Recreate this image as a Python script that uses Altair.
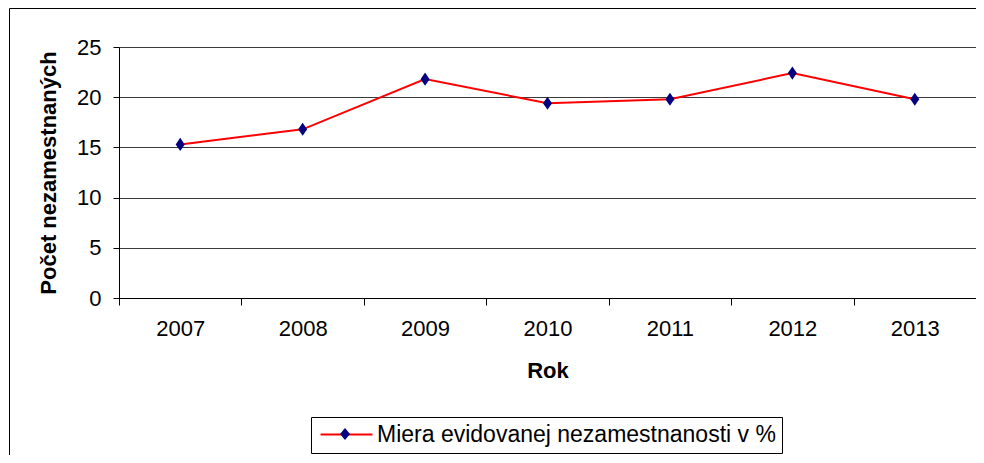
import altair as alt
import pandas as pd

# ---- data ----
years = ["2007", "2008", "2009", "2010", "2011", "2012", "2013"]
rates = [15.3, 16.8, 21.8, 19.4, 19.8, 22.4, 19.8]
series_name = "Miera evidovanej nezamestnanosti v %"
y_ticks = [0, 5, 10, 15, 20, 25]

df = pd.DataFrame({"rok": years, "miera": rates, "s": series_name, "s2": series_name})
frame_df = pd.DataFrame({"a": [0]})

FONT = "Liberation Sans"
W, H = 857, 251
DIAMOND = "M0,-1.45L1,0L0,1.45L-1,0Z"
LINE_SYM = "M-5,0H5"

x_enc = alt.X(
    "rok:O",
    title="Rok",
    scale=alt.Scale(type="band", paddingInner=0, paddingOuter=0),
    axis=alt.Axis(
        labelAngle=0, tickBand="extent", tickSize=7, labelPadding=13,
        titlePadding=21, grid=False,
    ),
)
y_enc = alt.Y(
    "miera:Q",
    title="Počet nezamestnaných",
    scale=alt.Scale(domain=[0, 25], nice=False),
    axis=alt.Axis(values=y_ticks, tickSize=6, labelPadding=12, titlePadding=16,
                  grid=True, gridColor="#3a3a3a", gridWidth=1),
)

line = alt.Chart(df).mark_line(strokeWidth=2).encode(
    x=x_enc,
    y=y_enc,
    color=alt.Color(
        "s:N",
        scale=alt.Scale(range=["#ff0000"]),
        legend=alt.Legend(
            title=None, orient="none", legendX=192, legendY=370,
            symbolType=LINE_SYM, symbolSize=108, symbolStrokeWidth=2,
            symbolOffset=18, labelOffset=19,
            labelFont=FONT, labelFontSize=23, labelColor="black", labelLimit=1000,
            padding=6, strokeColor="black", fillColor="white", cornerRadius=0,
            zindex=0,
        ),
    ),
)

points = alt.Chart(df).mark_point(
    filled=True, shape=DIAMOND, size=81, opacity=1, strokeWidth=0
).encode(
    x=x_enc,
    y=y_enc,
    fill=alt.Fill(
        "s2:N",
        scale=alt.Scale(range=["#000080"]),
        legend=alt.Legend(
            title=None, orient="none", legendX=221, legendY=382,
            symbolType="M0,-1.2L1,0L0,1.2L-1,0Z", symbolSize=100, symbolStrokeWidth=0,
            symbolOpacity=1,
            labelExpr="''", labelFontSize=1, labelOffset=0, padding=0,
            zindex=1,
        ),
    ),
)

frame = alt.Chart(frame_df).mark_rect(fill=None, stroke="black", strokeWidth=1).encode(
    x=alt.value(-109.5), x2=alt.value(900), y=alt.value(-38.5), y2=alt.value(440)
)

chart = alt.layer(frame, line, points).resolve_scale(
    color="independent", fill="independent"
).properties(
    width=W, height=H,
    autosize=alt.AutoSizeParams(type="none"),
    padding={"left": 111, "top": 39, "right": 0, "bottom": 157},
    background="white",
).configure_view(
    stroke="#999999", strokeWidth=1,
).configure_axis(
    labelFont=FONT, labelFontSize=22, labelColor="black",
    titleFont=FONT, titleFontSize=22, titleFontWeight="bold", titleColor="black",
    domainColor="black", tickColor="black", domainWidth=1, tickWidth=1,
)

chart.save("out.html", embed_options={"renderer": "svg", "actions": False})
